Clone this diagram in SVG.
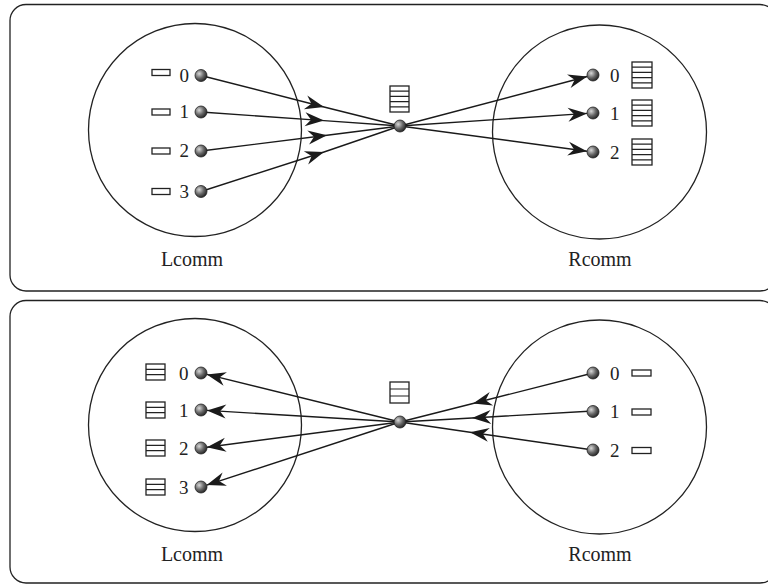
<svg xmlns="http://www.w3.org/2000/svg" width="768" height="584" viewBox="0 0 768 584">
<style>
.panel{fill:none;stroke:#222;stroke-width:1.3}
.comm{fill:none;stroke:#222;stroke-width:1.3}
.edge{fill:none;stroke:#1a1a1a;stroke-width:1.4}
.mid{marker-mid:url(#arr)}
.end{marker-end:url(#arr)}
.dot{fill:url(#g);stroke:#222;stroke-width:0.8}
.buf{fill:#fff;stroke:#222;stroke-width:1.3}
.sep{stroke:#222;stroke-width:1.2}
text{font-family:"Liberation Serif","Times New Roman",serif;font-size:19px;fill:#222}
.lab{text-anchor:middle;font-size:20px}
</style>
<defs>
<radialGradient id="g" cx="35%" cy="35%" r="70%">
<stop offset="0" stop-color="#d8d8d8"/>
<stop offset="0.55" stop-color="#666"/>
<stop offset="1" stop-color="#222"/>
</radialGradient>
<marker id="arr" markerUnits="userSpaceOnUse" viewBox="-20 -8 22 16" refX="0" refY="0" markerWidth="22" markerHeight="16" orient="auto">
<path d="M0,0 L-19,-7 L-13,0 L-19,7 Z" fill="#1a1a1a"/>
</marker>
</defs>

<rect class="panel" x="10" y="4.5" width="766" height="286.5" rx="16"/>
<rect class="panel" x="10" y="300.5" width="766" height="282.5" rx="16"/>

<g id="top-Lcomm">
<circle class="comm" cx="195" cy="130" r="106.5"/>
<text class="lab" x="192" y="266">Lcomm</text>
</g>
<g id="top-Rcomm">
<circle class="comm" cx="599.5" cy="132" r="107"/>
<text class="lab" x="600" y="266">Rcomm</text>
</g>
<g id="bot-Lcomm">
<circle class="comm" cx="195" cy="425" r="106.5"/>
<text class="lab" x="192" y="561">Lcomm</text>
</g>
<g id="bot-Rcomm">
<circle class="comm" cx="599.5" cy="427" r="107"/>
<text class="lab" x="600" y="561">Rcomm</text>
</g>

<g id="connectors">
<path class="edge mid" d="M201,75.5 L324,107 L400,126"/>
<path class="edge mid" d="M201,112 L324,120.6 L400,126"/>
<path class="edge mid" d="M201,151 L327,135.2 L400,126"/>
<path class="edge mid" d="M201,191.5 L324,152 L400,126"/>
<path class="edge end" d="M400,126 L587.2,76.5"/>
<path class="edge end" d="M400,126 L587,113.4"/>
<path class="edge end" d="M400,126 L587,151.2"/>

<path class="edge end" d="M400,422 L206.8,374.4"/>
<path class="edge end" d="M400,422 L207,410.4"/>
<path class="edge end" d="M400,422 L206.9,447.2"/>
<path class="edge end" d="M400,422 L206.7,485.1"/>
<path class="edge mid" d="M593,373 L473,403.5 L400,422"/>
<path class="edge mid" d="M593,411 L472,418 L400,422"/>
<path class="edge mid" d="M593,450 L470,432.2 L400,422"/>
</g>

<g id="top-L0"><rect class="buf" x="152" y="69.5" width="18" height="6"/><text x="179.5" y="81.5">0</text><circle class="dot" cx="201" cy="75.5" r="6"/></g>
<g id="top-L1"><rect class="buf" x="152" y="109" width="18" height="6"/><text x="179.5" y="118">1</text><circle class="dot" cx="201" cy="112" r="6"/></g>
<g id="top-L2"><rect class="buf" x="152" y="148" width="18" height="6"/><text x="179.5" y="157">2</text><circle class="dot" cx="201" cy="151" r="6"/></g>
<g id="top-L3"><rect class="buf" x="152" y="188.5" width="18" height="6"/><text x="179.5" y="197.5">3</text><circle class="dot" cx="201" cy="191.5" r="6"/></g>

<g id="top-center">
<rect class="buf" x="390" y="86" width="19" height="26"/>
<path class="sep" d="M390,91.2H409M390,96.4H409M390,101.6H409M390,106.8H409"/>
<circle class="dot" cx="400" cy="126" r="6"/>
</g>

<g id="top-R0"><circle class="dot" cx="593" cy="75" r="6"/><text x="610" y="81.5">0</text>
<rect class="buf" x="632" y="62" width="20" height="26"/><path class="sep" d="M632,67.2H652M632,72.4H652M632,77.6H652M632,82.8H652"/></g>
<g id="top-R1"><circle class="dot" cx="593" cy="113" r="6"/><text x="610" y="119.5">1</text>
<rect class="buf" x="632" y="100" width="20" height="26"/><path class="sep" d="M632,105.2H652M632,110.4H652M632,115.6H652M632,120.8H652"/></g>
<g id="top-R2"><circle class="dot" cx="593" cy="152" r="6"/><text x="610" y="158.5">2</text>
<rect class="buf" x="632" y="139" width="20" height="26"/><path class="sep" d="M632,144.2H652M632,149.4H652M632,154.6H652M632,159.8H652"/></g>

<g id="bot-L0"><rect class="buf" x="146" y="364" width="19" height="16"/><path class="sep" d="M146,369.3H165M146,374.7H165"/><text x="179" y="379.5">0</text><circle class="dot" cx="201" cy="373" r="6"/></g>
<g id="bot-L1"><rect class="buf" x="146" y="402" width="19" height="16"/><path class="sep" d="M146,407.3H165M146,412.7H165"/><text x="179" y="416.5">1</text><circle class="dot" cx="201" cy="410" r="6"/></g>
<g id="bot-L2"><rect class="buf" x="146" y="440" width="19" height="16"/><path class="sep" d="M146,445.3H165M146,450.7H165"/><text x="179" y="454.5">2</text><circle class="dot" cx="201" cy="448" r="6"/></g>
<g id="bot-L3"><rect class="buf" x="146" y="479" width="19" height="16"/><path class="sep" d="M146,484.3H165M146,489.7H165"/><text x="179" y="493.5">3</text><circle class="dot" cx="201" cy="487" r="6"/></g>

<g id="bot-center">
<rect class="buf" x="390" y="382" width="19" height="21"/>
<path class="sep" d="M390,389H409M390,396H409"/>
<circle class="dot" cx="400" cy="422" r="6"/>
</g>

<g id="bot-R0"><circle class="dot" cx="593" cy="373" r="6"/><text x="610" y="379.5">0</text><rect class="buf" x="632" y="370" width="19" height="6"/></g>
<g id="bot-R1"><circle class="dot" cx="593" cy="411.5" r="6"/><text x="610" y="418">1</text><rect class="buf" x="632" y="409" width="19" height="6"/></g>
<g id="bot-R2"><circle class="dot" cx="593" cy="450" r="6"/><text x="610" y="456.5">2</text><rect class="buf" x="632" y="447.5" width="19" height="6"/></g>
</svg>
